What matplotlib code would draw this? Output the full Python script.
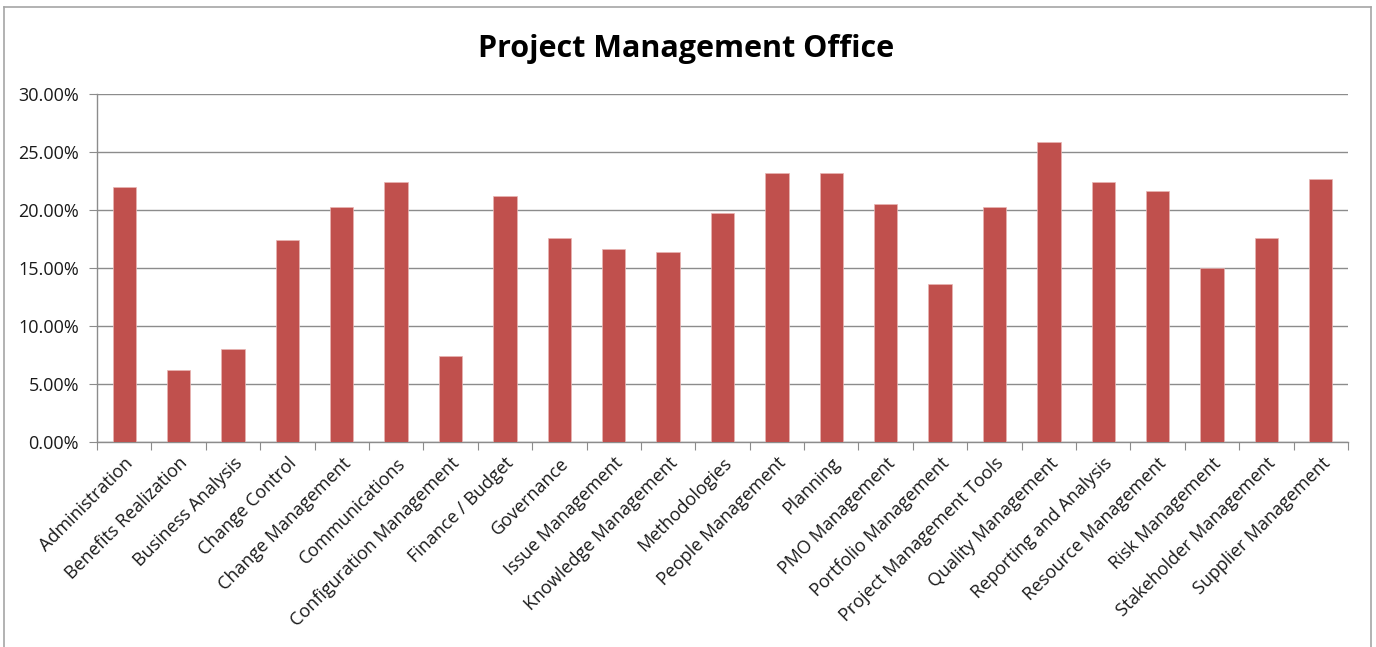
import matplotlib
matplotlib.use("Agg")
import matplotlib.pyplot as plt
from matplotlib.lines import Line2D
from matplotlib.ticker import FuncFormatter, MultipleLocator
import numpy as np

categories = [
    "Administration", "Benefits Realization", "Business Analysis", "Change Control",
    "Change Management", "Communications", "Configuration Management", "Finance / Budget",
    "Governance", "Issue Management", "Knowledge Management", "Methodologies",
    "People Management", "Planning", "PMO Management", "Portfolio Management",
    "Project Management Tools", "Quality Management", "Reporting and Analysis",
    "Resource Management", "Risk Management", "Stakeholder Management", "Supplier Management",
]
values = [
    22.00, 6.19, 7.98, 17.45, 20.27, 22.40, 7.40, 21.22, 17.59, 16.64, 16.38, 19.72,
    23.21, 23.21, 20.56, 13.59, 20.27, 25.91, 22.40, 21.62, 15.00, 17.59, 22.69,
]
title = "Project Management Office"

plt.rcParams["font.family"] = ["Open Sans", "DejaVu Sans"]

W, H = 1376, 647
fig = plt.figure(figsize=(W / 100, H / 100), dpi=100)
fig.patch.set_facecolor("white")

# chart area frame
frame_color = "#a6a6a6"
fig.add_artist(Line2D([4 / W, 4 / W], [0, 1 - 7 / H], transform=fig.transFigure, color=frame_color, lw=1.2))
fig.add_artist(Line2D([1371 / W, 1371 / W], [0, 1 - 7 / H], transform=fig.transFigure, color=frame_color, lw=1.2))
fig.add_artist(Line2D([4 / W, 1371 / W], [1 - 7 / H, 1 - 7 / H], transform=fig.transFigure, color=frame_color, lw=1.2))

left, right, top, bottom = 97, 1348, 94.3, 441.7
ax = fig.add_axes([left / W, 1 - bottom / H, (right - left) / W, (bottom - top) / H])

x = np.arange(len(categories))
ax.bar(x, values, width=0.43, color="#c0504d", edgecolor="#e8b4b3", linewidth=0.5, zorder=3)

ax.set_xlim(-0.5, len(categories) - 0.5)
ax.set_ylim(0, 30)
ax.yaxis.set_major_locator(MultipleLocator(5))
ax.yaxis.set_major_formatter(FuncFormatter(lambda v, p: f"{v:.2f}%"))
ax.grid(axis="y", color="#8c8c8c", linewidth=1.0, zorder=0)
ax.set_axisbelow(True)

for s in ["top", "right"]:
    ax.spines[s].set_visible(False)
for s in ["left", "bottom"]:
    ax.spines[s].set_color("#8c8c8c")
    ax.spines[s].set_linewidth(1.0)

# ticks between categories on x, outward on y
ax.set_xticks(np.arange(-0.5, len(categories), 1.0), minor=False)
ax.set_xticklabels([])
ax.set_xticks(x, minor=True)
ax.set_xticklabels(categories, minor=True, rotation=45, ha="right", rotation_mode="anchor",
                   fontsize=13, color="#1a1a1a")
ax.tick_params(axis="x", which="major", length=6, color="#8c8c8c", direction="out")
ax.tick_params(axis="x", which="minor", length=0, pad=9)
ax.tick_params(axis="y", length=6, color="#8c8c8c", labelsize=13, labelcolor="#1a1a1a", pad=7)

fig.text(0.5 * (474 + 898) / W, 1 - 49 / H, title, ha="center", va="center",
         fontsize=22, fontweight="bold", color="black")

fig.savefig("out.png", dpi=100, facecolor="white")
